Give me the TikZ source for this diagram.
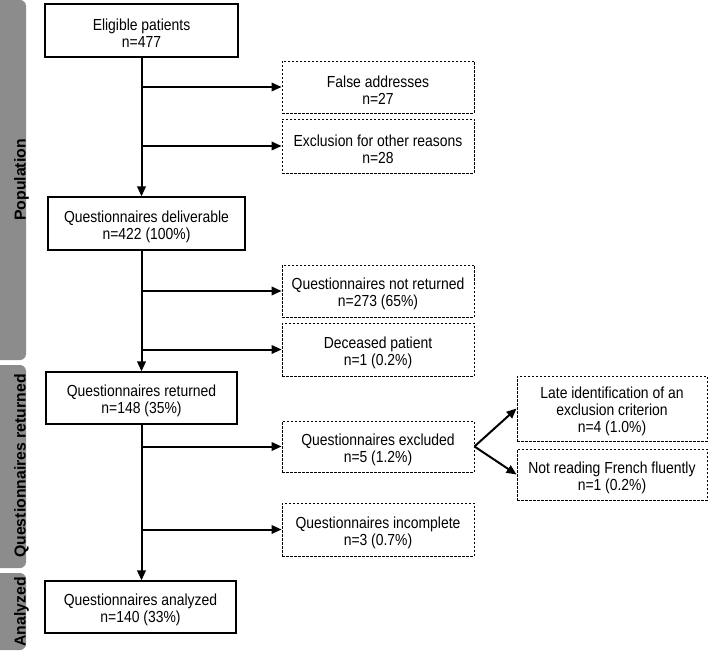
\documentclass[tikz,border=0pt]{standalone}
\usepackage{fontspec}
\setmainfont{Liberation Sans}[FakeStretch=0.87]
\newfontfamily\bandfont{Liberation Sans}
\usepackage{xcolor}
\usepackage{tikz}
\usetikzlibrary{arrows.meta}

\definecolor{bandgray}{RGB}{140,140,140}
\newcommand{\lift}{\rule{0pt}{17.5pt}}

\begin{document}
\begin{tikzpicture}[x=1pt, y=-1pt, >={Triangle[length=10pt,width=8.5pt]}]
        \def\main{141.5}
        \def\side{378}
        \def\far{612}
        \tikzstyle{stage}=[draw=black, line width=1.2pt, minimum width=192pt, minimum height=53pt, inner sep=2pt, align=center, font=\fontsize{16}{17}\selectfont]
        \tikzstyle{drop}=[stage, line width=0.9pt, dash pattern=on 2.5pt off 1.5pt]
        \tikzstyle{flow}=[line width=2pt]
        \tikzstyle{bandtext}=[rotate=90, font=\bandfont\bfseries\fontsize{15.8}{18}\selectfont]

        \useasboundingbox (0,0) rectangle (709,652);

        % Side bands
        \begin{scope}
                \clip (0,0) rectangle (709,652);
                \fill[bandgray, rounded corners=6pt] (-12,0) rectangle (26,360);
                \fill[bandgray, rounded corners=6pt] (-12,365) rectangle (26,568);
                \fill[bandgray, rounded corners=6pt] (-12,573) rectangle (26,650);
        \end{scope}
        \node[bandtext] (pop) at (21.5, 180) {Population};
        \node[bandtext] (qret) at (21.5, 466) {Questionnaires returned};
        \node[bandtext] (ana) at (21.5, 612) {Analyzed};

        % Nodes
        \node[stage, minimum width=193pt] (elig) at (\main, 30.5) {\lift Eligible patients\\n=477};
        \node[stage, minimum width=197pt] (deliv) at (146.5, 223.5) {\lift Questionnaires deliverable\\n=422 (100\%)};
        \node[stage, minimum width=191pt, minimum height=52pt] (ret) at (\main, 398) {\lift Questionnaires returned\\n=148 (35\%)};
        \node[stage, minimum width=191pt, minimum height=52pt] (anal) at (140.5, 607) {\lift Questionnaires analyzed\\n=140 (33\%)};

        \node[drop, minimum height=52pt] (fa) at (\side, 87) {\lift False addresses\\n=27};
        \node[drop, minimum height=54pt] (excl) at (\side, 146) {\lift Exclusion for other reasons\\n=28};
        \node[drop, minimum height=52pt] (notret) at (\side, 291) {\lift Questionnaires not returned\\n=273 (65\%)};
        \node[drop] (dec) at (\side, 349.5) {\lift Deceased patient\\n=1 (0.2\%)};
        \node[drop, minimum height=51pt] (qexcl) at (\side, 446.5) {\lift Questionnaires excluded\\n=5 (1.2\%)};
        \node[drop] (incompl) at (\side, 529.5) {\lift Questionnaires incomplete\\n=3 (0.7\%)};

        \node[drop, minimum width=190pt, minimum height=65pt] (late) at (\far, 408.5) {\lift Late identification of an\\exclusion criterion\\n=4 (1.0\%)};
        \node[drop, minimum width=190pt, minimum height=51pt] (french) at (\far, 474.5) {\lift Not reading French fluently\\n=1 (0.2\%)};

        % Edges
        \draw [flow, ->] (elig.south) to (elig.south |- deliv.north);
        \draw [flow, ->] (elig.south |- fa) to (fa.west);
        \draw [flow, ->] (elig.south |- excl) to (excl.west);

        \draw [flow, ->] (ret.north |- deliv.south) to (ret.north);
        \draw [flow, ->] (ret.north |- notret) to (notret.west);
        \draw [flow, ->] (ret.north |- dec) to (dec.west);

        \draw [flow, ->] (ret.south) to (ret.south |- anal.north);
        \draw [flow, ->] (ret.south |- qexcl) to (qexcl.west);
        \draw [flow, ->] (ret.south |- incompl) to (incompl.west);

        \draw [flow, ->] (qexcl.east) to (late.west);
        \draw [flow, ->] (qexcl.east) to (french.west);

\end{tikzpicture}
\end{document}
